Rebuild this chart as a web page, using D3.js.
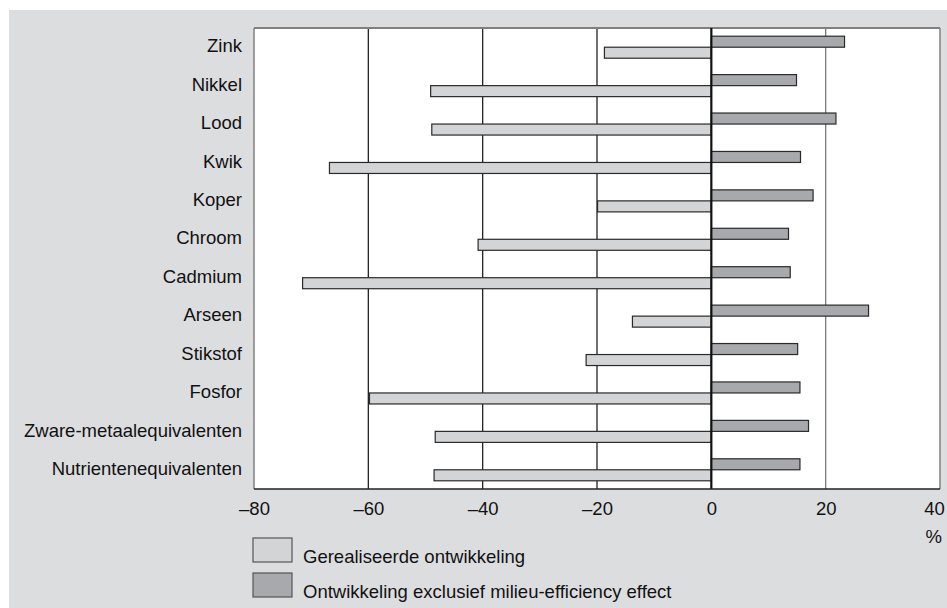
<!DOCTYPE html>
<html>
<head>
<meta charset="utf-8">
<script src="https://cdn.jsdelivr.net/npm/d3@7/dist/d3.min.js"></script>
<style>
  html, body { margin: 0; padding: 0; background: #ffffff; }
  svg { display: block; font-family: "Liberation Sans", Arial, Helvetica, sans-serif; }
</style>
</head>
<body>
<svg id="chart" width="947" height="608"></svg>
<script>
const categories = ["Zink", "Nikkel", "Lood", "Kwik", "Koper", "Chroom", "Cadmium", "Arseen",
  "Stikstof", "Fosfor", "Zware-metaalequivalenten", "Nutrientenequivalenten"];
const gerealiseerd = [-18.7, -49.1, -48.9, -66.8, -19.9, -40.8, -71.5, -13.8, -21.9, -59.8, -48.3, -48.5];
const exclusief = [23.3, 14.9, 21.8, 15.6, 17.8, 13.5, 13.8, 27.5, 15.1, 15.5, 17.0, 15.5];
const xTicks = [-80, -60, -40, -20, 0, 20, 40];
const seriesKeys = ["excl", "real"];
const legendOrder = ["real", "excl"];
const legendLabels = { real: "Gerealiseerde ontwikkeling", excl: "Ontwikkeling exclusief milieu-efficiency effect" };

const colors = { real: "#d3d4d6", excl: "#a8a9ac" };
const svg = d3.select("#chart");
const W = 947, H = 608;
const margin = { left: 254, right: 7, top: 28, bottom: 119 };
const plotW = W - margin.left - margin.right;
const plotH = H - margin.top - margin.bottom;

// background panel
svg.append("rect").attr("x", 9).attr("y", 10).attr("width", W - 9).attr("height", H - 10).attr("fill", "#dcdddf");

const g = svg.append("g").attr("transform", `translate(${margin.left},${margin.top})`);

const x = d3.scaleLinear().domain([-80, 40]).range([0, plotW]);
const y = d3.scaleBand().domain(categories).range([0, plotH]).paddingInner(0.427).paddingOuter(0.2135);
const ySub = d3.scaleBand().domain(seriesKeys).range([0, y.bandwidth()]).padding(0);

// plot area
g.append("rect").attr("x", 0).attr("y", 0).attr("width", plotW).attr("height", plotH).attr("fill", "#ffffff");

// gridlines
g.selectAll("line.grid").data(xTicks.filter(d => d !== 0 && d !== -80 && d !== 40)).enter()
  .append("line").attr("class", "grid")
  .attr("x1", d => x(d)).attr("x2", d => x(d)).attr("y1", 0).attr("y2", plotH)
  .attr("stroke", d => d > 0 ? "#777" : "#222").attr("stroke-width", 1.3);

// frame: top, left, right
g.append("line").attr("x1", 0).attr("x2", plotW).attr("y1", 0).attr("y2", 0).attr("stroke", "#808080").attr("stroke-width", 2);
g.append("line").attr("x1", 0).attr("x2", 0).attr("y1", 0).attr("y2", plotH).attr("stroke", "#808080").attr("stroke-width", 1.5);
g.append("line").attr("x1", plotW).attr("x2", plotW).attr("y1", 0).attr("y2", plotH).attr("stroke", "#808080").attr("stroke-width", 1.5);

// data rows
const rows = categories.map((c, i) => ({ cat: c, real: gerealiseerd[i], excl: exclusief[i] }));
const grp = g.selectAll("g.row").data(rows).enter().append("g").attr("class", "row")
  .attr("transform", d => `translate(0,${y(d.cat)})`);
grp.selectAll("rect").data(d => seriesKeys.map(k => ({ key: k, value: d[k] }))).enter()
  .append("rect")
  .attr("x", d => x(Math.min(0, d.value)))
  .attr("width", d => Math.abs(x(d.value) - x(0)))
  .attr("y", d => ySub(d.key))
  .attr("height", ySub.bandwidth())
  .attr("fill", d => colors[d.key])
  .attr("stroke", "#2a2a2a").attr("stroke-width", 1.2);

// zero line
g.append("line").attr("x1", x(0)).attr("x2", x(0)).attr("y1", 0).attr("y2", plotH).attr("stroke", "#111").attr("stroke-width", 2.2);

// bottom axis
const xAxis = d3.axisBottom(x).tickValues(xTicks).tickSize(0).tickPadding(13)
  .tickFormat(d => d < 0 ? "\u2013" + Math.abs(d) : String(d));
const xg = g.append("g").attr("transform", `translate(0,${plotH})`).call(xAxis);
xg.select(".domain").remove();
xg.selectAll("text").attr("font-size", "18.5px").attr("fill", "#111").attr("font-family", null)
  .attr("x", d => d === 40 ? -6 : 0);
g.append("line").attr("x1", 0).attr("x2", plotW).attr("y1", plotH).attr("y2", plotH).attr("stroke", "#222").attr("stroke-width", 1.5);

// left axis labels
const yAxis = d3.axisLeft(y).tickSize(0).tickPadding(12);
const yg = g.append("g").call(yAxis);
yg.select(".domain").remove();
yg.selectAll("text").attr("font-size", "18.5px").attr("fill", "#111").attr("font-family", null).attr("dy", "0.28em");

// percent unit
svg.append("text").attr("x", 942).attr("y", 543).attr("text-anchor", "end")
  .attr("font-size", "18.5px").attr("fill", "#111").text("%");

// legend
const leg = svg.append("g").attr("transform", "translate(253,538)");
const li = leg.selectAll("g").data(legendOrder).enter().append("g")
  .attr("transform", (d, i) => `translate(0,${i * 35})`);
li.append("rect").attr("x", 0).attr("y", 0).attr("width", 39).attr("height", 24)
  .attr("fill", d => colors[d]).attr("stroke", "#555").attr("stroke-width", 1.2);
li.append("text").attr("x", 50).attr("y", 25).attr("font-size", "18.5px").attr("fill", "#111")
  .text(d => legendLabels[d]);
</script>
</body>
</html>
